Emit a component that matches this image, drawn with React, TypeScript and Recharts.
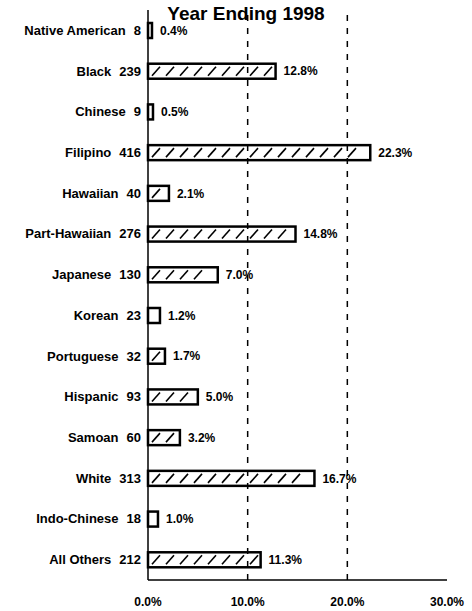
import { BarChart, Bar, XAxis, YAxis, ReferenceLine, LabelList } from 'recharts';

const groups = ['Native American', 'Black', 'Chinese', 'Filipino', 'Hawaiian', 'Part-Hawaiian', 'Japanese', 'Korean', 'Portuguese', 'Hispanic', 'Samoan', 'White', 'Indo-Chinese', 'All Others'];
const counts = [8, 239, 9, 416, 40, 276, 130, 23, 32, 93, 60, 313, 18, 212];
const percents = [0.4, 12.8, 0.5, 22.3, 2.1, 14.8, 7.0, 1.2, 1.7, 5.0, 3.2, 16.7, 1.0, 11.3];
const xTicks = [0, 10, 20, 30];
const gridLines = [10, 20];

const data = groups.map((name, i) => ({ name, count: counts[i], pct: percents[i] }));

const font = '"Liberation Sans", Arial, sans-serif';

const GroupTick = (props: any) => {
    const { x, y, payload } = props;
    const row = data.find((d) => d.name === payload.value);
    return (
        <text x={x} y={y} dy="0.35em" textAnchor="end" fontFamily={font} fontSize={13} fontWeight="bold" fill="#000">
            <tspan>{payload.value}</tspan>
            <tspan dx={8}>{row ? row.count : ''}</tspan>
        </text>
    );
};

// white box with black border and short "/" strokes, like the scanned hatch
const HatchBar = (props: any) => {
    const { x, y, width, height } = props;
    const marks = [];
    for (let mx = x + 4; mx + 8 <= x + width - 2; mx += 14) {
        marks.push(
            <line key={mx} x1={mx} y1={y + height - 3} x2={mx + 8} y2={y + 3} stroke="#000" strokeWidth={1.6} />
        );
    }
    return (
        <g>
            <rect x={x} y={y} width={width} height={height} fill="#fff" stroke="#000" strokeWidth={2.5} />
            {marks}
        </g>
    );
};

export default function App() {
    return (
        <div style={{ position: 'absolute', left: 0, top: 0, width: 472, height: 611, background: '#fff' }}>
            <BarChart
                width={472}
                height={611}
                data={data}
                layout="vertical"
                margin={{ top: 10, right: 25, bottom: 0, left: 0 }}
                barSize={15}
            >
                <XAxis
                    type="number"
                    domain={[0, 30]}
                    ticks={xTicks}
                    height={31}
                    tickLine={false}
                    tickSize={0}
                    tickMargin={17}
                    axisLine={{ stroke: '#000', strokeWidth: 1.5 }}
                    tickFormatter={(v: number) => `${v.toFixed(1)}%`}
                    tick={{ fontFamily: font, fontSize: 12, fontWeight: 'bold', fill: '#000' }}
                />
                <YAxis
                    type="category"
                    dataKey="name"
                    width={148}
                    tickLine={false}
                    tickSize={0}
                    tickMargin={7}
                    interval={0}
                    axisLine={{ stroke: '#000', strokeWidth: 1.5 }}
                    tick={<GroupTick />}
                />
                {gridLines.map((g) => (
                    <ReferenceLine key={g} x={g} stroke="#000" strokeWidth={1.5} strokeDasharray="6 7" />
                ))}
                <Bar dataKey="pct" shape={<HatchBar />} isAnimationActive={false}>
                    <LabelList
                        dataKey="pct"
                        position="right"
                        offset={8}
                        formatter={(v: any) => `${Number(v).toFixed(1)}%`}
                        style={{ fontFamily: font, fontSize: 12, fontWeight: 'bold', fill: '#000' }}
                    />
                </Bar>
            </BarChart>
            <svg width={472} height={28} style={{ position: 'absolute', left: 0, top: 0, pointerEvents: 'none' }}>
                <text x={246} y={20} textAnchor="middle" fontFamily={font} fontSize={19} fontWeight="bold" fill="#000">
                    Year Ending 1998
                </text>
            </svg>
        </div>
    );
}
